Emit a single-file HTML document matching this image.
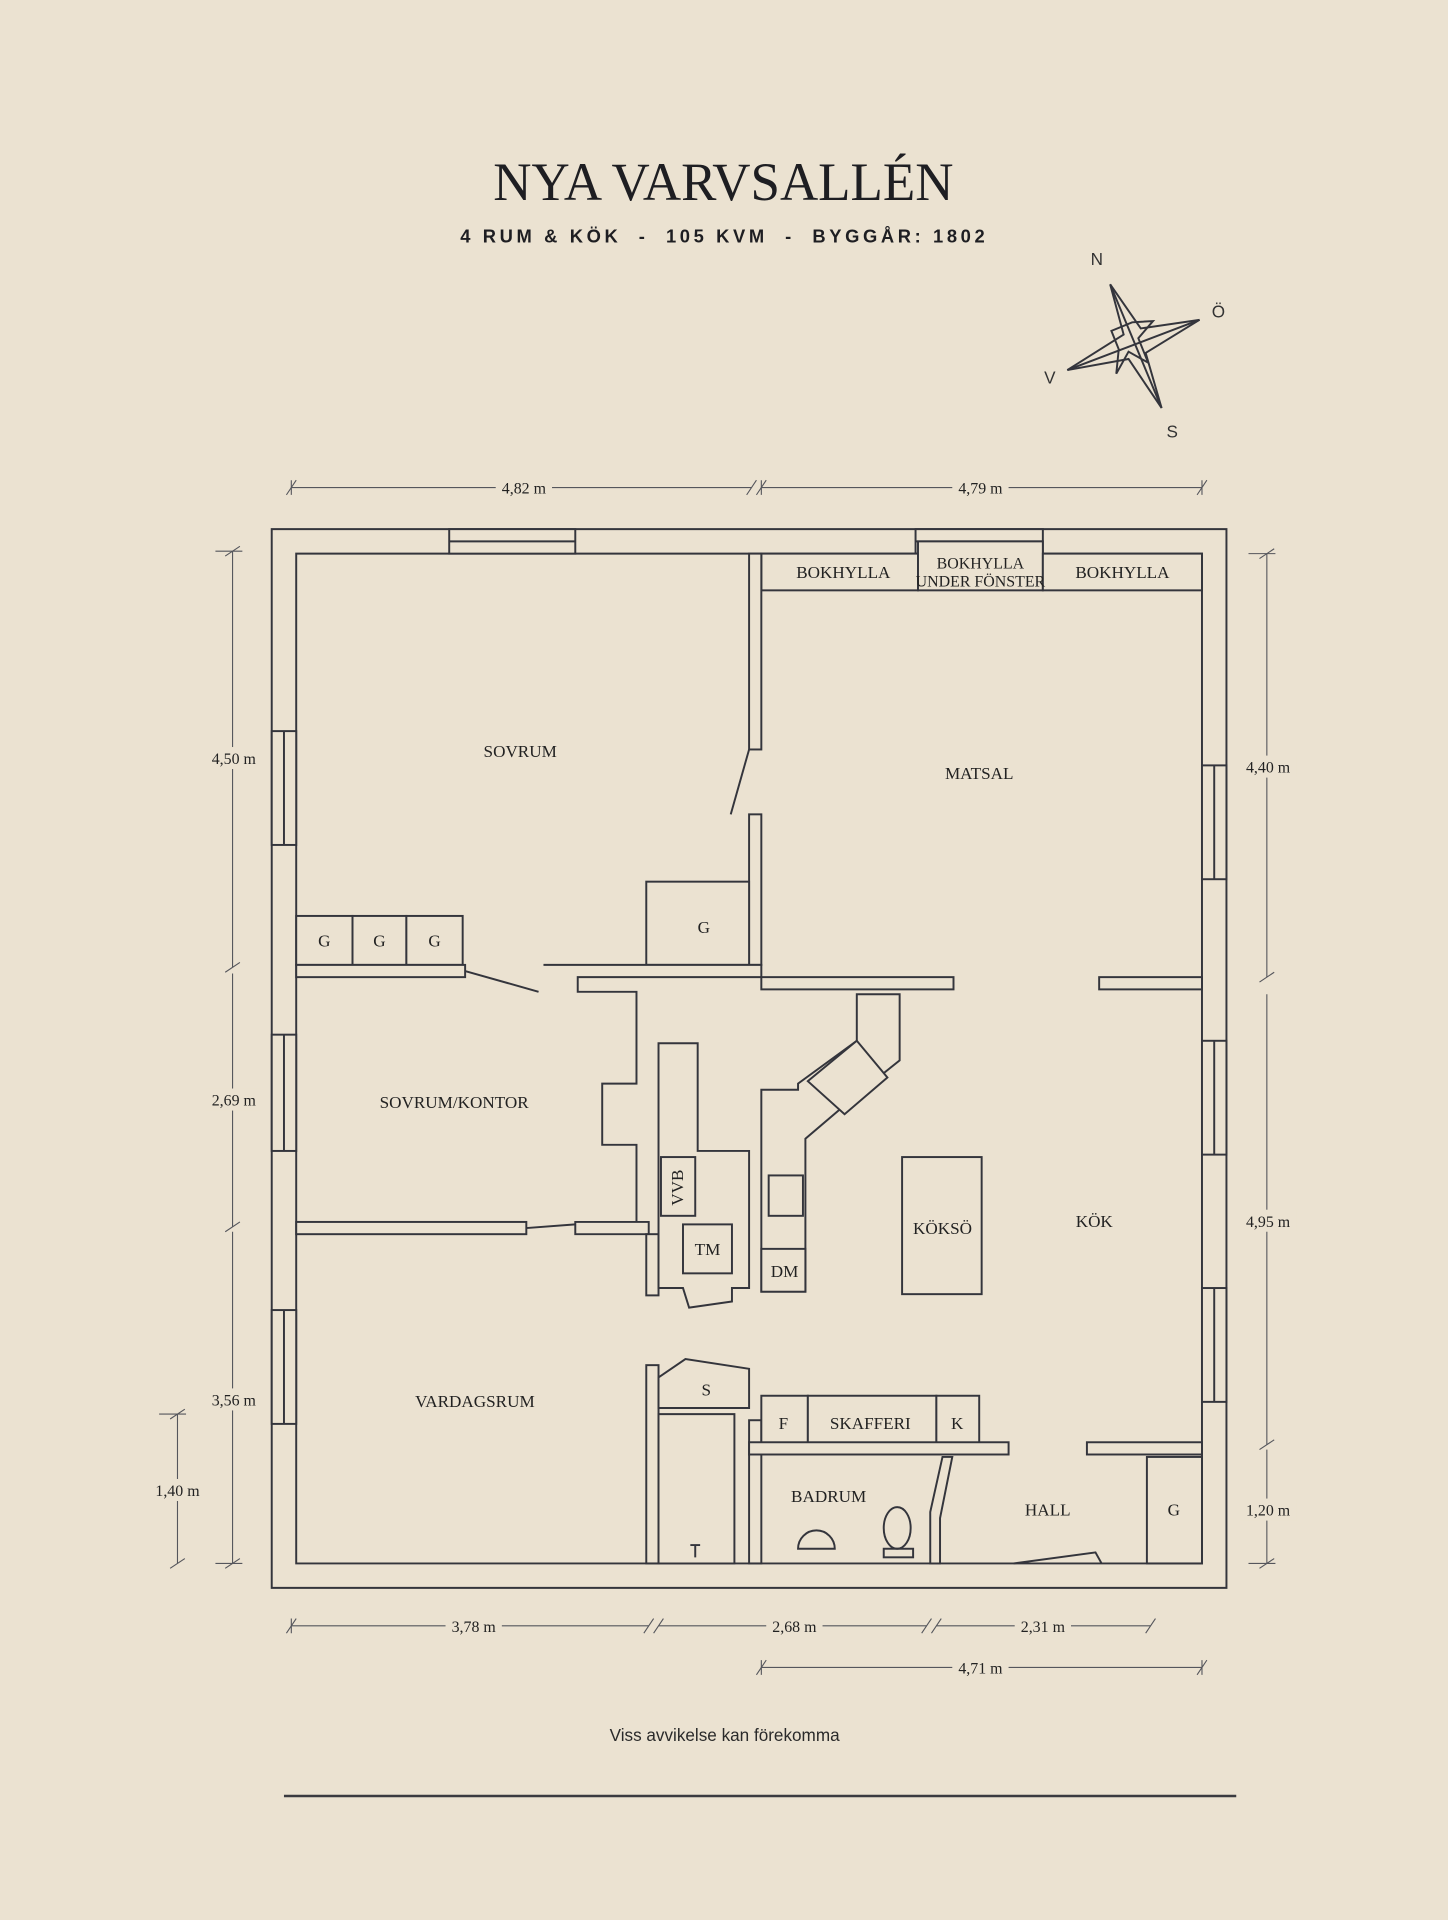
<!DOCTYPE html>
<html><head><meta charset="utf-8"><style>
html,body{margin:0;padding:0;background:#ebe2d1;}
svg{display:block}
.w{fill:#ebe2d1;stroke:#34353c;stroke-width:1.6}
.l{fill:none;stroke:#34353c;stroke-width:1.6}
.d{fill:none;stroke:#55565c;stroke-width:0.9}
.t{font-family:"Liberation Serif",serif;font-size:14px;fill:#222;text-anchor:middle}
.m{font-family:"Liberation Serif",serif;font-size:13px;fill:#222;text-anchor:middle}
</style></head><body>
<svg width="1448" height="1920" viewBox="0 0 1183 1568" xmlns="http://www.w3.org/2000/svg">
<rect width="1183" height="1568" fill="#ebe2d1"/>
<text x="591" y="163" font-family="Liberation Serif,serif" font-size="44" fill="#1e1e22" text-anchor="middle" textLength="376" lengthAdjust="spacingAndGlyphs">NYA VARVSALLÉN</text>
<text x="591" y="198" xml:space="preserve" font-family="Liberation Sans,sans-serif" font-weight="bold" font-size="15" fill="#1e1e22" text-anchor="middle" letter-spacing="1.5" textLength="430" lengthAdjust="spacing">4 RUM &amp; KÖK  -  105 KVM  -  BYGGÅR: 1802</text>
<!-- compass -->
<g class="l" stroke-width="1.2">
<polygon points="872,302 918,273 907,232 932,268 980,261 936,288 949,333 922,293"/>
<line x1="907" y1="232" x2="949" y2="333"/><line x1="872" y1="302" x2="980" y2="261"/>
<polygon points="908,270 925,263 942,262 930,276 938,296 922,287 912,305 914,285"/>
</g>
<g font-family="Liberation Sans,sans-serif" font-size="14" fill="#333">
<text x="891" y="216">N</text><text x="990" y="259">Ö</text><text x="853" y="313">V</text><text x="953" y="357">S</text></g>
<path class="w" fill-rule="evenodd" d="M222,432H1002V1297H222Z M242,452V1277H982V452Z"/>
<g class="w">
<rect x="367" y="432" width="103" height="20"/><rect x="748" y="432" width="104" height="20"/>
<rect x="222" y="597" width="20" height="93"/><rect x="222" y="845" width="20" height="95"/><rect x="222" y="1070" width="20" height="93"/>
<rect x="982" y="625" width="20" height="93"/><rect x="982" y="850" width="20" height="93"/><rect x="982" y="1052" width="20" height="93"/>
</g>
<g class="l" stroke-width="1"><line x1="367" y1="442" x2="470" y2="442"/><line x1="748" y1="442" x2="852" y2="442"/>
<line x1="232" y1="597" x2="232" y2="690"/><line x1="232" y1="845" x2="232" y2="940"/><line x1="232" y1="1070" x2="232" y2="1163"/>
<line x1="992" y1="625" x2="992" y2="718"/><line x1="992" y1="850" x2="992" y2="943"/><line x1="992" y1="1052" x2="992" y2="1145"/></g>
<g class="w"><rect x="622" y="452" width="128" height="30"/><rect x="750" y="442" width="102" height="40"/><rect x="852" y="452" width="130" height="30"/></g>
<text class="t" x="689" y="472">BOKHYLLA</text><text class="t" x="917" y="472">BOKHYLLA</text>
<text class="m" x="801" y="464" font-size="11">BOKHYLLA</text><text class="m" x="801" y="479" font-size="11">UNDER FÖNSTER</text>
<g class="w">
<rect x="612" y="452" width="10" height="160"/>
<rect x="612" y="665" width="10" height="123"/>
<rect x="528" y="720" width="84" height="68"/>
<rect x="242" y="748" width="46" height="40"/><rect x="288" y="748" width="44" height="40"/><rect x="332" y="748" width="46" height="40"/>
<rect x="242" y="788" width="138" height="10"/>
<path d="M444,788H622V798H472V810H520V885H492V935H520V998H470V1008H530V998H520V935"/>
<rect x="622" y="798" width="157" height="10"/><rect x="898" y="798" width="84" height="10"/>
<rect x="242" y="998" width="188" height="10"/>
<rect x="528" y="1008" width="10" height="50"/><rect x="528" y="1115" width="10" height="162"/>
<path d="M538,852H570V940H612V1052H598V1063L563,1068L558,1052H538Z"/>
<rect x="540" y="945" width="28" height="48"/><rect x="558" y="1000" width="40" height="40"/>
<path d="M622,890H652V885L700,850V812H735V866L705,890L658,930V1055H622Z"/>
<rect x="628" y="960" width="28" height="33"/><rect x="622" y="1020" width="36" height="35"/>
<path d="M660,883L700,850L725,880L690,910Z"/>
<rect x="737" y="945" width="65" height="112"/>
<path d="M538,1125L560,1110L612,1118V1150H538Z"/>
<path d="M538,1155H600V1277H538Z"/>
<rect x="612" y="1160" width="10" height="117"/>
<rect x="622" y="1140" width="38" height="40"/><rect x="660" y="1140" width="105" height="40"/><rect x="765" y="1140" width="35" height="40"/>
<rect x="612" y="1178" width="212" height="10"/>
<path d="M770,1190H778L768,1240V1277H760V1235Z"/>
<rect x="888" y="1178" width="94" height="10"/>
<rect x="937" y="1190" width="45" height="87"/>
</g>
<g class="l">
<line x1="380" y1="793" x2="440" y2="810"/><line x1="612" y1="612" x2="597" y2="665"/>
<line x1="430" y1="1003" x2="470" y2="1000"/>
<path d="M828,1277L895,1268L900,1277"/>
<path d="M652,1265a15,15 0 0 1 30,0z"/><ellipse cx="733" cy="1248" rx="11" ry="17"/><rect x="722" y="1265" width="24" height="7"/>
<path d="M568,1272v-10m-4,0h8"/>
</g>
<g class="t">
<text x="425" y="618">SOVRUM</text><text x="800" y="636">MATSAL</text><text x="575" y="762">G</text>
<text x="265" y="773">G</text><text x="310" y="773">G</text><text x="355" y="773">G</text>
<text x="371" y="905">SOVRUM/KONTOR</text><text x="770" y="1008">KÖKSÖ</text><text x="894" y="1002">KÖK</text>
<text x="578" y="1025">TM</text><text x="641" y="1043">DM</text><text x="388" y="1149">VARDAGSRUM</text>
<text x="577" y="1140">S</text><text x="640" y="1167">F</text><text x="711" y="1167">SKAFFERI</text><text x="782" y="1167">K</text>
<text x="677" y="1227">BADRUM</text><text x="856" y="1238">HALL</text><text x="959" y="1238">G</text>
<text transform="translate(558,970) rotate(-90)">VVB</text>
</g>
<g class="d">
<line x1="238" y1="398" x2="614" y2="398"/><line x1="622" y1="398" x2="982" y2="398"/>
<line x1="190" y1="450" x2="190" y2="790"/><line x1="190" y1="795" x2="190" y2="1002"/><line x1="190" y1="1006" x2="190" y2="1277"/>
<line x1="145" y1="1155" x2="145" y2="1277"/>
<line x1="1035" y1="452" x2="1035" y2="798"/><line x1="1035" y1="812" x2="1035" y2="1180"/><line x1="1035" y1="1184" x2="1035" y2="1277"/>
<line x1="238" y1="1328" x2="530" y2="1328"/><line x1="538" y1="1328" x2="757" y2="1328"/><line x1="765" y1="1328" x2="940" y2="1328"/>
<line x1="622" y1="1362" x2="982" y2="1362"/>
<path d="M234,404l8,-12M610,404l8,-12M618,404l8,-12M978,404l8,-12M184,454l12,-8M184,794l12,-8M184,1006l12,-8M184,1281l12,-8M139,1159l12,-8M139,1281l12,-8M1029,456l12,-8M1029,802l12,-8M1029,1184l12,-8M1029,1281l12,-8M234,1334l8,-12M526,1334l8,-12M534,1334l8,-12M753,1334l8,-12M761,1334l8,-12M936,1334l8,-12M618,1368l8,-12M978,1368l8,-12"/>
<path d="M238,392v12M622,392v12M982,392v12M176,450h22M176,1277h22M130,1155h22M1020,452h22M1020,1277h22M238,1322v12M622,1356v12M982,1356v12"/>
</g>
<g class="m">
<rect x="405" y="390" width="46" height="16" fill="#ebe2d1"/><text x="428" y="403">4,82 m</text>
<rect x="778" y="390" width="46" height="16" fill="#ebe2d1"/><text x="801" y="403">4,79 m</text>
<rect x="168" y="610" width="46" height="18" fill="#ebe2d1"/><text x="191" y="624">4,50 m</text>
<rect x="168" y="889" width="46" height="18" fill="#ebe2d1"/><text x="191" y="903">2,69 m</text>
<rect x="168" y="1134" width="46" height="18" fill="#ebe2d1"/><text x="191" y="1148">3,56 m</text>
<rect x="122" y="1208" width="46" height="18" fill="#ebe2d1"/><text x="145" y="1222">1,40 m</text>
<rect x="1013" y="617" width="46" height="18" fill="#ebe2d1"/><text x="1036" y="631">4,40 m</text>
<rect x="1013" y="988" width="46" height="18" fill="#ebe2d1"/><text x="1036" y="1002">4,95 m</text>
<rect x="1013" y="1224" width="46" height="18" fill="#ebe2d1"/><text x="1036" y="1238">1,20 m</text>
<rect x="364" y="1320" width="46" height="16" fill="#ebe2d1"/><text x="387" y="1333">3,78 m</text>
<rect x="626" y="1320" width="46" height="16" fill="#ebe2d1"/><text x="649" y="1333">2,68 m</text>
<rect x="829" y="1320" width="46" height="16" fill="#ebe2d1"/><text x="852" y="1333">2,31 m</text>
<rect x="778" y="1354" width="46" height="16" fill="#ebe2d1"/><text x="801" y="1367">4,71 m</text>
</g>
<text x="592" y="1422" font-family="Liberation Sans,sans-serif" font-size="14" fill="#2a2a2a" text-anchor="middle">Viss avvikelse kan förekomma</text>
<line x1="232" y1="1467" x2="1010" y2="1467" stroke="#3a3a3f" stroke-width="2"/>
</svg>
</body></html>
